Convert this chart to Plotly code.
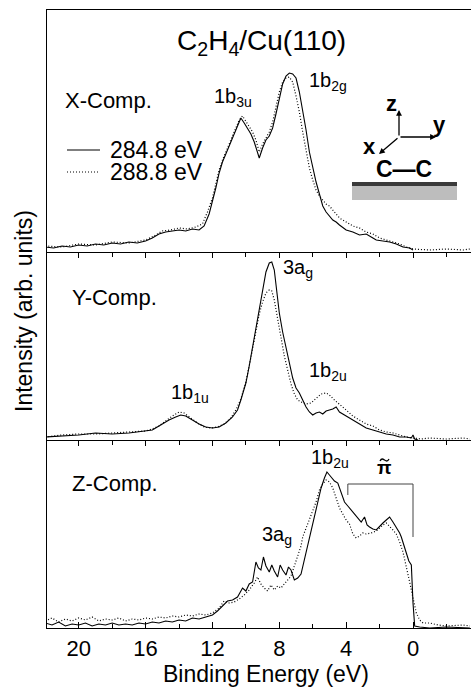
import plotly.graph_objects as go

# ---------------- data (binding energy in eV, intensity in arb. units) ----------------
x_sol_E = [22.0, 21.5, 21.0, 20.5, 20.0, 19.5, 19.0, 18.5, 18.0, 17.5, 17.0, 16.5, 16.0, 15.6, 15.2, 14.8,
           14.4, 14.0, 13.6, 13.2, 12.8, 12.5, 12.2, 12.0, 11.8, 11.6, 11.4, 11.2, 11.0, 10.8, 10.6, 10.4,
           10.3, 10.1, 9.9, 9.7, 9.5, 9.3, 9.2, 9.0, 8.8, 8.6, 8.4, 8.2, 8.0, 7.8, 7.6, 7.4, 7.2, 7.0, 6.8,
           6.6, 6.4, 6.2, 6.0, 5.8, 5.6, 5.4, 5.2, 5.0, 4.8, 4.6, 4.4, 4.0, 3.6, 3.2, 2.8, 2.4, 2.2, 1.8,
           1.4, 1.0, 0.6, 0.2, 0.0]
x_sol_I = [5, 4, 6, 5, 7, 6, 8, 7, 9, 8, 10, 9, 11, 14, 18, 20,
           21, 22, 21, 23, 22, 26, 38, 50, 64, 79, 90, 98, 106, 114, 122, 131,
           134, 129, 124, 118, 110, 100, 94, 104, 112, 116, 124, 138, 152, 168, 176, 179, 178, 174, 160,
           142, 122, 100, 84, 70, 58, 46, 40, 36, 32, 30, 27, 22, 20, 17, 18, 14, 12, 11,
           10, 8, 5, 4, 2]

x_dot_E = [22.0, 21.0, 20.0, 19.0, 18.0, 17.0, 16.0, 15.5, 15.0, 14.5, 14.0, 13.5, 13.0, 12.6, 12.3, 12.0,
           11.8, 11.6, 11.4, 11.2, 11.0, 10.8, 10.6, 10.4, 10.2, 10.0, 9.8, 9.6, 9.4, 9.2, 9.0, 8.8, 8.6,
           8.4, 8.2, 8.0, 7.8, 7.6, 7.4, 7.2, 7.0, 6.8, 6.6, 6.4, 6.2, 6.0, 5.8, 5.6, 5.4, 5.2, 5.0, 4.8,
           4.4, 4.0, 3.6, 3.2, 2.8, 2.4, 2.0, 1.6, 1.2, 0.8, 0.4, 0.0, -1.0, -2.0, -3.0, -3.4]
x_dot_I = [6, 5, 8, 7, 10, 9, 12, 16, 21, 22, 24, 23, 25, 28, 40, 54,
           68, 82, 92, 100, 108, 116, 124, 132, 136, 131, 126, 120, 112, 100, 108, 114, 120,
           130, 146, 160, 170, 174, 175, 170, 156, 140, 120, 100, 84, 72, 62, 56, 52, 48, 46, 42,
           34, 30, 26, 24, 20, 18, 14, 12, 10, 8, 5, 3, 2, 3, 2, 3]

y_sol_E = [22.0, 21.0, 20.0, 19.0, 18.0, 17.0, 16.4, 16.0, 15.6, 15.4, 15.0, 14.6, 14.2, 13.9, 13.6, 13.2,
           12.8, 12.4, 12.0, 11.6, 11.2, 10.8, 10.5, 10.3, 10.0, 9.8, 9.6, 9.4, 9.2, 9.0, 8.8, 8.6, 8.45,
           8.3, 8.1, 8.0, 7.8, 7.6, 7.4, 7.2, 7.0, 6.8, 6.6, 6.4, 6.2, 6.0, 5.8, 5.6, 5.4, 5.2, 5.0, 4.8,
           4.6, 4.4, 4.0, 3.6, 3.2, 2.8, 2.4, 2.0, 1.6, 1.2, 0.8, 0.4, 0.1, 0.0, -0.1, -0.3]
y_sol_I = [3, 4, 5, 7, 6, 7, 8, 9, 10, 12, 16, 20, 23, 25, 24, 20,
           16, 13, 12, 13, 17, 23, 30, 40, 57, 74, 93, 113, 133, 152, 168, 177, 178,
           170, 145, 127, 108, 93, 78, 62, 52, 47, 40, 33, 28, 25, 27, 28, 26, 29, 30, 31,
           33, 28, 24, 20, 16, 12, 10, 8, 6, 5, 3, 3, 2, 5, 1, 0]

y_dot_E = [22.0, 21.0, 20.0, 19.0, 18.0, 17.0, 16.0, 15.6, 15.2, 14.8, 14.4, 14.0, 13.7, 13.3, 12.9, 12.5,
           12.1, 11.7, 11.3, 10.9, 10.6, 10.3, 10.0, 9.8, 9.6, 9.4, 9.2, 9.0, 8.8, 8.6, 8.45, 8.3, 8.1,
           7.9, 7.7, 7.5, 7.3, 7.1, 6.9, 6.7, 6.4, 6.1, 5.8, 5.5, 5.2, 5.0, 4.7, 4.4, 4.0, 3.6, 3.2, 2.8,
           2.4, 2.0, 1.6, 1.2, 0.8, 0.4, 0.0, -0.5, -1.0, -2.0, -3.0, -3.4]
y_dot_I = [3, 5, 6, 6, 7, 8, 9, 11, 14, 19, 24, 28, 27, 22, 17, 13,
           12, 13, 16, 22, 30, 41, 58, 74, 92, 110, 126, 138, 147, 150, 149, 140, 120,
           100, 84, 70, 56, 46, 40, 38, 36, 37, 42, 46, 47, 45, 40, 36, 30, 24, 20, 16,
           14, 10, 8, 7, 5, 3, 2, 1, 2, 1, 2, 1]

z_sol_E = [22.0, 21.6, 21.2, 20.8, 20.4, 20.0, 19.6, 19.2, 18.8, 18.4, 18.0, 17.6, 17.2, 16.8, 16.4, 16.0,
           15.6, 15.2, 14.8, 14.4, 14.0, 13.6, 13.2, 12.8, 12.4, 12.0, 11.7, 11.4, 11.1, 10.8, 10.5, 10.2,
           10.0, 9.8, 9.6, 9.4, 9.25, 9.1, 8.95, 8.8, 8.6, 8.45, 8.3, 8.1, 7.95, 7.8, 7.6, 7.45, 7.3, 7.1,
           6.9, 6.7, 6.5, 6.3, 6.1, 5.9, 5.7, 5.5, 5.3, 5.15, 5.0, 4.85, 4.7, 4.5, 4.3, 4.1, 3.9, 3.7,
           3.5, 3.3, 3.1, 2.9, 2.75, 2.6, 2.4, 2.2, 2.0, 1.8, 1.6, 1.4, 1.2, 1.0, 0.8, 0.7, 0.55, 0.4,
           0.25, 0.1, 0.0, -0.1, -0.4, -1.0, -2.0, -3.4]
z_sol_I = [5, 3, 6, 2, 4, 3, 5, 2, 4, 3, 5, 3, 4, 3, 5, 4,
           6, 5, 7, 6, 8, 7, 10, 9, 11, 13, 17, 22, 27, 28, 31, 40,
           37, 44, 46, 66, 60, 58, 71, 62, 56, 63, 57, 51, 63, 58, 53, 61, 58, 48,
           50, 54, 68, 82, 98, 112, 125, 140, 150, 156, 153, 150, 147, 145, 136, 126, 122, 118,
           113, 110, 106, 111, 103, 101, 99, 98, 102, 105, 108, 111, 106, 101, 95, 91, 82, 75,
           67, 63, 25, 2, 1, 0, 1, 0]

z_dot_E = [22.0, 21.6, 21.2, 20.8, 20.4, 20.0, 19.6, 19.2, 18.8, 18.4, 18.0, 17.6, 17.2, 16.8, 16.4, 16.0,
           15.6, 15.2, 14.8, 14.4, 14.0, 13.6, 13.2, 12.8, 12.4, 12.0, 11.6, 11.3, 11.0, 10.7, 10.4, 10.1,
           9.8, 9.5, 9.3, 9.1, 8.9, 8.7, 8.5, 8.3, 8.1, 7.9, 7.7, 7.5, 7.3, 7.1, 6.9, 6.7, 6.6, 6.4, 6.2,
           6.0, 5.8, 5.6, 5.4, 5.2, 5.0, 4.8, 4.6, 4.4, 4.2, 4.0, 3.8, 3.6, 3.4, 3.2, 3.0, 2.8, 2.5, 2.2,
           2.0, 1.8, 1.6, 1.4, 1.2, 1.0, 0.8, 0.6, 0.4, 0.2, 0.0, -0.2, -0.4, -0.6, -1.0, -1.5, -2.0,
           -3.0, -3.4]
z_dot_I = [7, 10, 6, 9, 7, 10, 8, 11, 7, 9, 8, 10, 7, 9, 8, 10,
           9, 11, 10, 12, 11, 13, 12, 14, 13, 15, 20, 27, 25, 26, 29, 33,
           38, 45, 51, 44, 40, 37, 43, 38, 42, 40, 44, 48, 52, 62, 71, 82, 91, 100, 108,
           116, 126, 138, 144, 148, 146, 140, 130, 120, 114, 108, 104, 94, 90, 92, 95, 94, 95, 97,
           100, 103, 105, 102, 98, 94, 86, 76, 62, 46, 30, 15, 8, 5, 5, 3, 2,
           3, 2]

# pi-tilde bracket (Z panel, eV / intensity)
pi_E = [3.9, 0.0]
pi_top = 144
pi_left_low = 133
pi_right_low = 91

x_ticks = [20, 16, 12, 8, 4, 0]
x_range = [21.9, -3.47]

# ---------------- layout geometry ----------------
W, H = 471, 688
L, R, T, B = 47, 0, 10, 60
PW = W - L - R
PH = H - T - B
FONT = "Liberation Sans, Arial, Helvetica, sans-serif"
DOT = "1px,2px"


def px(x):
    return (x - L) / PW


def py(y):
    return (H - B - y) / PH


d1 = 188 / PH
d2 = 376 / PH

fig = go.Figure()

panels = [
    ("x3", "y3", x_sol_E, x_sol_I, x_dot_E, x_dot_I),
    ("x2", "y2", y_sol_E, y_sol_I, y_dot_E, y_dot_I),
    ("x", "y", z_sol_E, z_sol_I, z_dot_E, z_dot_I),
]
for xa, ya, se, si, de, di in panels:
    fig.add_trace(go.Scatter(x=de, y=di, mode="lines", xaxis=xa, yaxis=ya, showlegend=False,
                             line=dict(color="black", width=1.2, dash=DOT)))
    fig.add_trace(go.Scatter(x=se, y=si, mode="lines", xaxis=xa, yaxis=ya, showlegend=False,
                             line=dict(color="black", width=1.1)))

axcommon = dict(range=x_range, showgrid=False, zeroline=False, showline=True, linecolor="black",
                linewidth=1.2)
fig.update_layout(
    width=W, height=H,
    margin=dict(l=L, r=R, t=T, b=B, pad=0),
    paper_bgcolor="white", plot_bgcolor="white",
    font=dict(family=FONT, size=22, color="black"),
    xaxis=dict(**axcommon, anchor="y", tickmode="array", tickvals=x_ticks,
               ticks="inside", ticklen=6, tickwidth=1, tickcolor="black",
               minor=dict(dtick=2, tick0=0, ticks="inside", ticklen=4, tickcolor="black"),
               tickfont=dict(size=22, family=FONT)),
    xaxis2=dict(**axcommon, anchor="y2", tickmode="array", tickvals=x_ticks, showticklabels=False,
                ticks="outside", ticklen=5, tickwidth=1, tickcolor="black",
                minor=dict(dtick=2, tick0=0, ticks="outside", ticklen=4, tickcolor="black")),
    xaxis3=dict(**axcommon, anchor="y3", mirror=True, tickmode="array", tickvals=x_ticks,
                showticklabels=False, ticks="outside", ticklen=5, tickwidth=1, tickcolor="black",
                minor=dict(dtick=2, tick0=0, ticks="outside", ticklen=4, tickcolor="black")),
    yaxis=dict(domain=[0, d1], range=[0, 188], showgrid=False, zeroline=False, showticklabels=False,
               ticks="", showline=True, linecolor="black", linewidth=1.2),
    yaxis2=dict(domain=[d1, d2], range=[0, 188], showgrid=False, zeroline=False, showticklabels=False,
                ticks="", showline=True, linecolor="black", linewidth=1.2),
    yaxis3=dict(domain=[d2, 1], range=[0, 242], showgrid=False, zeroline=False, showticklabels=False,
                ticks="", showline=True, linecolor="black", linewidth=1.2),
)

ann = []


def text(x, y, t, size=22, xanchor="center", bold=False, **kw):
    f = dict(size=size, family=FONT, color="black")
    if bold:
        t = "<b>" + t + "</b>"
    ann.append(dict(x=px(x), y=py(y), xref="paper", yref="paper", text=t, showarrow=False,
                    xanchor=xanchor, yanchor="middle", font=f, **kw))


# title & axis titles
text(261.5, 42, "C<sub>2</sub>H<sub>4</sub>/Cu(110)", size=28)
text(265.7, 674, "Binding Energy (eV)", size=23)
ann.append(dict(x=px(24), y=py(311), xref="paper", yref="paper", text="Intensity (arb. units)",
                showarrow=False, textangle=-90, xanchor="center", yanchor="middle",
                font=dict(size=23, family=FONT, color="black")))

# panel labels
text(63, 100, "X-Comp.", xanchor="left")
text(70, 297, "Y-Comp.", xanchor="left")
text(70, 483, "Z-Comp.", xanchor="left")

# peak labels
text(233, 97, "1b<sub>3u</sub>", size=20)
text(328, 82, "1b<sub>2g</sub>", size=20)
text(298, 268, "3a<sub>g</sub>", size=20)
text(328, 371, "1b<sub>2u</sub>", size=20)
text(190, 393, "1b<sub>1u</sub>", size=20)
text(330, 458, "1b<sub>2u</sub>", size=20)
text(277, 535, "3a<sub>g</sub>", size=20)
text(384, 467, "π", size=19, bold=True)

# legend
text(108, 150, "284.8 eV", size=23, xanchor="left")
text(108, 172, "288.8 eV", size=23, xanchor="left")

# coordinate icon labels
text(391, 104, "z", size=22, bold=True)
text(439, 124, "y", size=22, bold=True)
text(369, 147, "x", size=22, bold=True)
text(404, 169, "C—C", size=23, bold=True)

# arrows
for tip, tail in [((399, 110), (399, 137)), ((436, 137), (399, 137)), ((379, 154), (399, 137))]:
    ann.append(dict(x=px(tip[0]), y=py(tip[1]), xref="paper", yref="paper", text="",
                    showarrow=True, ax=tail[0] - tip[0], ay=tail[1] - tip[1], axref="pixel", ayref="pixel",
                    arrowhead=2, arrowsize=0.9, arrowwidth=1.3, arrowcolor="black", standoff=0))

fig.update_layout(annotations=ann)

shapes = []
# legend lines
shapes.append(dict(type="line", xref="paper", yref="paper", x0=px(67), x1=px(100), y0=py(150), y1=py(150),
                   line=dict(color="black", width=1.2)))
shapes.append(dict(type="line", xref="paper", yref="paper", x0=px(67), x1=px(98), y0=py(172), y1=py(172),
                   line=dict(color="black", width=1.2, dash=DOT)))
# substrate
shapes.append(dict(type="rect", xref="paper", yref="paper", x0=px(352), x1=px(457), y0=py(200), y1=py(185),
                   fillcolor="#bdbdbd", line=dict(width=0)))
shapes.append(dict(type="rect", xref="paper", yref="paper", x0=px(352), x1=px(457), y0=py(186), y1=py(182),
                   fillcolor="#3a3a3a", line=dict(width=0)))
# tilde over pi
tx0, tx1, ty = 380, 389, 460
tpath = "M {:.5f},{:.5f} C {:.5f},{:.5f} {:.5f},{:.5f} {:.5f},{:.5f} S {:.5f},{:.5f} {:.5f},{:.5f}".format(
    px(tx0), py(ty + 1), px(tx0 + 1.5), py(ty - 2), px(tx0 + 3), py(ty - 1), px((tx0 + tx1) / 2), py(ty),
    px(tx1 - 1.5), py(ty + 2), px(tx1), py(ty - 1))
shapes.append(dict(type="path", xref="paper", yref="paper", path=tpath, line=dict(color="black", width=1.3)))
# pi bracket
shapes.append(dict(type="line", xref="x", yref="y", x0=pi_E[0], x1=pi_E[1], y0=pi_top, y1=pi_top,
                   line=dict(color="#444", width=1)))
shapes.append(dict(type="line", xref="x", yref="y", x0=pi_E[0], x1=pi_E[0], y0=pi_top, y1=pi_left_low,
                   line=dict(color="#444", width=1)))
shapes.append(dict(type="line", xref="x", yref="y", x0=pi_E[1], x1=pi_E[1], y0=pi_top, y1=pi_right_low,
                   line=dict(color="#444", width=1)))
fig.update_layout(shapes=shapes)

fig.write_html("out.html")
